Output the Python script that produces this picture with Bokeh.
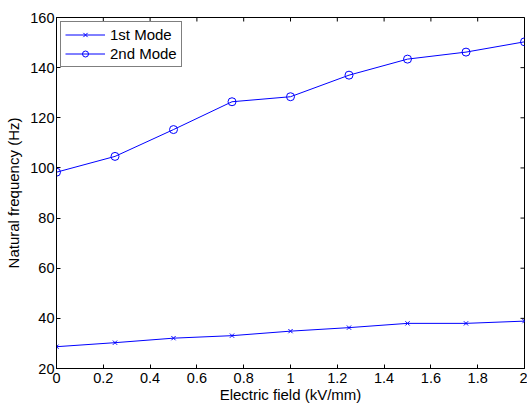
import math
from bokeh.plotting import figure
from bokeh.models import Range1d, Legend, LegendItem, FixedTicker
from bokeh.embed import file_html
from bokeh.resources import INLINE

# Data
field = [0, 0.25, 0.5, 0.75, 1.0, 1.25, 1.5, 1.75, 2.0]
mode1 = [28.7, 30.3, 32.1, 33.1, 34.9, 36.3, 38.0, 38.0, 38.9]
mode2 = [98.3, 104.6, 115.3, 126.4, 128.4, 137.0, 143.4, 146.2, 150.3]

xticks = [0, 0.2, 0.4, 0.6, 0.8, 1, 1.2, 1.4, 1.6, 1.8, 2]
xtick_labels = ["0", "0.2", "0.4", "0.6", "0.8", "1", "1.2", "1.4", "1.6", "1.8", "2"]
yticks = [20, 40, 60, 80, 100, 120, 140, 160]
ytick_labels = [str(v) for v in yticks]

X_MIN, X_MAX = 0, 2
Y_MIN, Y_MAX = 20, 160

FONT = "Liberation Sans"
BLUE = "#0000ff"

p = figure(width=527, height=405, x_range=Range1d(X_MIN, X_MAX), y_range=Range1d(Y_MIN, Y_MAX),
           output_backend="svg", toolbar_location=None,
           min_border_left=56, min_border_right=3, min_border_top=17, min_border_bottom=37)
p.xgrid.visible = False
p.ygrid.visible = False
p.outline_line_color = "black"
p.outline_line_width = 1
p.background_fill_color = "white"
p.border_fill_color = "white"

def style_axis(ax, ticks, labels):
    ax.ticker = FixedTicker(ticks=ticks)
    ax.major_label_overrides = {t: l for t, l in zip(ticks, labels)}
    ax.axis_line_color = "black"
    ax.major_tick_line_color = "black"
    ax.major_tick_in = 4
    ax.major_tick_out = 0
    ax.minor_tick_line_color = None
    ax.major_label_text_font = FONT
    ax.major_label_text_font_size = "14.5px"
    ax.major_label_text_color = "black"
    ax.axis_label_text_font = FONT
    ax.axis_label_text_font_size = "15px"
    ax.axis_label_text_font_style = "normal"
    ax.axis_label_text_color = "black"

style_axis(p.xaxis[0], xticks, xtick_labels)
style_axis(p.yaxis[0], yticks, ytick_labels)
p.xaxis[0].axis_label = "Electric field (kV/mm)"
p.yaxis[0].axis_label = "Natural frequency (Hz)"
p.xaxis[0].major_label_standoff = 4
p.xaxis[0].axis_label_standoff = 0
p.yaxis[0].major_label_standoff = 2
p.yaxis[0].axis_label_standoff = 5

# inward ticks on the top and right edges of the box (half of each dash is clipped)
p.scatter(xticks, [Y_MAX] * len(xticks), marker="dash", angle=math.pi / 2, size=8,
          line_color="black", line_width=1)
p.scatter([X_MAX] * len(yticks), yticks, marker="dash", size=8,
          line_color="black", line_width=1)

l1 = p.line(field, mode1, line_color=BLUE, line_width=1)
s1 = p.scatter(field, mode1, marker="x", size=6, line_color=BLUE, line_width=1)
l2 = p.line(field, mode2, line_color=BLUE, line_width=1)
s2 = p.scatter(field, mode2, marker="circle", size=8, line_color=BLUE, fill_color=None, line_width=1)

legend = Legend(items=[LegendItem(label="1st Mode", renderers=[l1, s1]),
                       LegendItem(label="2nd Mode", renderers=[l2, s2])],
                location="top_left")
legend.margin = 4
legend.padding = 4
legend.spacing = 2
legend.glyph_width = 40
legend.glyph_height = 15
legend.label_standoff = 5
legend.label_text_font = FONT
legend.label_text_font_size = "15px"
legend.label_text_color = "black"
legend.border_line_color = "black"
legend.border_line_width = 1
legend.background_fill_color = "white"
legend.background_fill_alpha = 1
p.add_layout(legend)

open("out.html", "w").write(file_html(p, INLINE))
